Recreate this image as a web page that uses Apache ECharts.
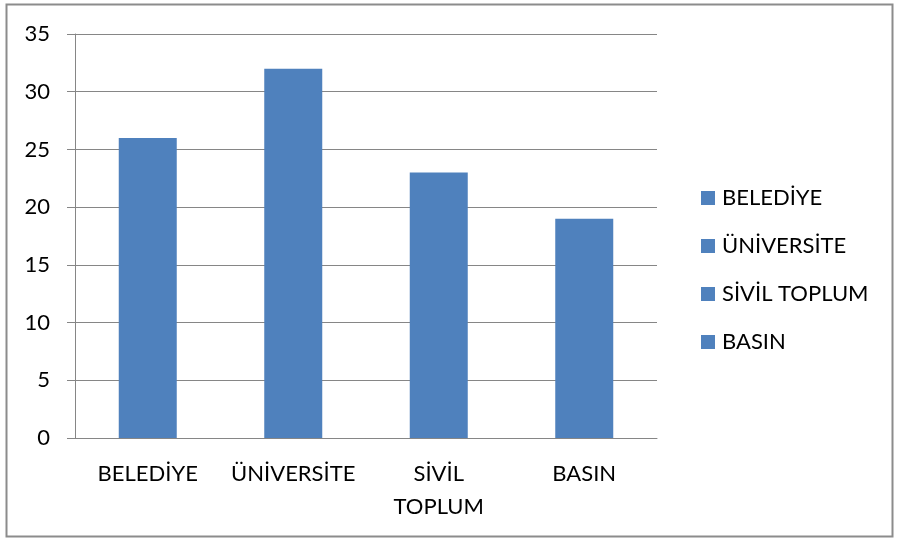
<!DOCTYPE html>
<html>
<head>
<meta charset="utf-8">
<script src="https://cdn.jsdelivr.net/npm/echarts@6/dist/echarts.min.js"></script>
<style>
html,body{margin:0;padding:0;background:#fff;}
#c{width:897px;height:539px;}
</style>
</head>
<body>
<div id="c"></div>
<script>
const categories = ['BELEDİYE', 'ÜNİVERSİTE', 'SİVİL TOPLUM', 'BASIN'];
const values = [26, 32, 23, 19];
const yTicks = { min: 0, max: 35, interval: 5 };

const FONT = 'Lato';
const BAR = '#4F81BD';
const GRID = '#868686';

const series = categories.map((name, i) => ({
  name: name,
  type: 'bar',
  stack: 'all',
  barWidth: 58,
  itemStyle: { color: BAR },
  data: categories.map((c, j) => (j === i ? values[i] : null))
}));

const chart = echarts.init(document.getElementById('c'), null, { renderer: 'canvas' });
chart.setOption({
  animation: false,
  backgroundColor: '#fff',
  textStyle: { fontFamily: FONT },
  graphic: [{
    type: 'rect',
    shape: { x: 6.5, y: 4.5, width: 886, height: 532 },
    style: { fill: 'none', stroke: '#8c8c8c', lineWidth: 2 },
    silent: true
  }],
  grid: { left: 75, right: 240, top: 34, bottom: 101 },
  legend: {
    orient: 'vertical',
    left: 696,
    top: 182,
    itemWidth: 14,
    itemHeight: 14,
    itemGap: 26,
    icon: 'rect',
    textStyle: { fontFamily: FONT, fontSize: 22, color: '#000', padding: [0, 0, 0, 2] },
    data: categories
  },
  xAxis: {
    type: 'category',
    data: categories,
    axisLine: { lineStyle: { color: GRID, width: 1 } },
    axisTick: { show: false },
    axisLabel: {
      fontFamily: FONT, fontSize: 22, color: '#000', margin: 19, lineHeight: 33,
      interval: 0,
      formatter: v => v.replace(' ', '\n')
    }
  },
  yAxis: {
    type: 'value',
    min: yTicks.min, max: yTicks.max, interval: yTicks.interval,
    axisLine: { show: true, lineStyle: { color: GRID, width: 1 } },
    axisTick: { show: true, length: 8, lineStyle: { color: GRID } },
    splitLine: { lineStyle: { color: GRID, width: 1 } },
    axisLabel: { fontFamily: FONT, fontSize: 22, color: '#000', margin: 25 }
  },
  series: series
});
</script>
</body>
</html>
